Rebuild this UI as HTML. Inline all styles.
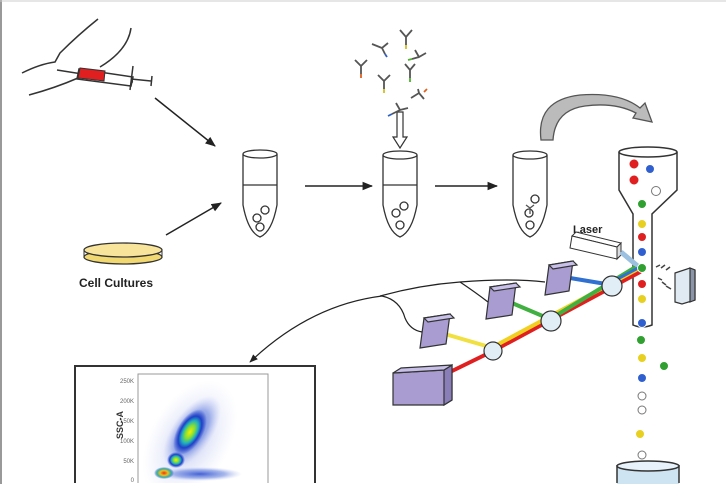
<!DOCTYPE html>
<html><head><meta charset="utf-8"><style>
html,body{margin:0;padding:0;background:#fff;width:726px;height:484px;overflow:hidden}
svg{display:block}
text{font-family:"Liberation Sans",Arial,sans-serif}
</style></head><body>
<svg width="726" height="484" viewBox="0 0 726 484" xmlns="http://www.w3.org/2000/svg">
<defs>
<marker id="ah" viewBox="0 0 10 10" refX="9" refY="5" markerWidth="7" markerHeight="7" orient="auto"><path d="M0,1 L10,5 L0,9 Z" fill="#222"/></marker>
<radialGradient id="blob" cx="50%" cy="50%" r="50%">
<stop offset="0" stop-color="#f4f000"/><stop offset="0.3" stop-color="#7ddc3c"/><stop offset="0.5" stop-color="#20b0c0"/><stop offset="0.7" stop-color="#2040c8"/><stop offset="1" stop-color="#2040c8" stop-opacity="0"/></radialGradient>
<radialGradient id="haze" cx="50%" cy="50%" r="50%">
<stop offset="0" stop-color="#3050d0" stop-opacity="0.9"/><stop offset="0.6" stop-color="#5070d8" stop-opacity="0.5"/><stop offset="1" stop-color="#a0b0f0" stop-opacity="0"/></radialGradient>
<radialGradient id="pale" cx="50%" cy="50%" r="50%">
<stop offset="0" stop-color="#8090e0" stop-opacity="0.5"/><stop offset="1" stop-color="#c0c8f4" stop-opacity="0"/></radialGradient>
<radialGradient id="red" cx="50%" cy="50%" r="50%">
<stop offset="0" stop-color="#e83010"/><stop offset="0.4" stop-color="#f0c020"/><stop offset="0.7" stop-color="#30b0a0"/><stop offset="1" stop-color="#2040c8" stop-opacity="0"/></radialGradient>
<clipPath id="pc"><rect x="138" y="374" width="130" height="109"/></clipPath>
</defs>
<line x1="1" y1="0" x2="1" y2="484" stroke="#999" stroke-width="2"/>
<line x1="0" y1="1" x2="726" y2="1" stroke="#ccc" stroke-width="1"/>

<g fill="none" stroke="#333" stroke-width="1.5">
<path d="M22,73 Q40,64 55,62 L60,53 Q78,35 98,19"/>
<path d="M131,28 Q128,50 100,67"/>
<path d="M29,95 Q55,88 78,78"/>
<path d="M57,70 L133,82"/>
<path d="M79,69 L133,77 L131,86 L77,79 Z" fill="#fff"/>
<path d="M133,66 L130,90"/>
<path d="M131,79 L151,81"/><path d="M152,76 L151,86"/>
</g>
<path d="M80,68 L105,71 L104,81 L78,78 Z" fill="#e02020" stroke="#333"/>

<g stroke="#222" stroke-width="1.5" marker-end="url(#ah)">
<line x1="155" y1="98" x2="215" y2="146"/>
<line x1="166" y1="235" x2="221" y2="203"/>
<line x1="305" y1="186" x2="372" y2="186"/>
<line x1="435" y1="186" x2="497" y2="186"/>
</g>

<ellipse cx="123" cy="257" rx="39" ry="7" fill="#f2d870" stroke="#333" stroke-width="1.3"/>
<path d="M84,250 L84,257 M162,250 L162,257" stroke="#333"/>
<ellipse cx="123" cy="250" rx="39" ry="7" fill="#f8e49a" stroke="#333" stroke-width="1.3"/>
<text x="79" y="287" font-size="12" font-weight="bold" fill="#222">Cell Cultures</text>

<g fill="#fff" stroke="#333" stroke-width="1.3">
<g transform="translate(260,0)">
<path d="M-17,154 L-17,205 Q-12,232 0,237 Q12,232 17,205 L17,154"/>
<ellipse cx="0" cy="154" rx="17" ry="4"/>
<line x1="-17" y1="185" x2="17" y2="185"/>
<circle cx="5" cy="210" r="4"/><circle cx="-3" cy="218" r="4"/><circle cx="0" cy="227" r="4"/>
</g>
<g transform="translate(400,0)">
<path d="M-17,155 L-17,205 Q-12,232 0,237 Q12,232 17,205 L17,155"/>
<ellipse cx="0" cy="155" rx="17" ry="4"/>
<line x1="-17" y1="185" x2="17" y2="185"/>
<circle cx="4" cy="206" r="4"/><circle cx="-4" cy="213" r="4"/><circle cx="0" cy="225" r="4"/>
</g>
<g transform="translate(530,0)">
<path d="M-17,155 L-17,205 Q-12,232 0,237 Q12,232 17,205 L17,155"/>
<ellipse cx="0" cy="155" rx="17" ry="4"/>
<circle cx="5" cy="199" r="4"/><circle cx="-1" cy="213" r="4"/><circle cx="0" cy="225" r="4"/>
<path d="M-4,205 l4,3 l4,-3 M0,208 l0,6" stroke="#555"/>
</g>
</g>
<path d="M397,112 L397,137 L393,137 L400,148 L407,137 L403,137 L403,112 Z" fill="#fff" stroke="#333" stroke-width="1.2"/>

<g stroke="#555" stroke-width="1.8" fill="none">
<path d="M400,30 l6,7 l6,-7 M406,37 l0,8"/><path d="M406,45 l0,4" stroke="#d0c020"/>
<path d="M372,44 l10,4 l6,-5 M382,48 l3,6"/><path d="M385,54 l2,3" stroke="#3060c0"/>
<path d="M415,50 l4,7 l7,-4 M419,57 l-7,2"/><path d="M412,59 l-4,1" stroke="#50b030"/>
<path d="M355,60 l6,6 l6,-6 M361,66 l0,8"/><path d="M361,74 l0,4" stroke="#e06020"/>
<path d="M378,75 l6,6 l6,-6 M384,81 l0,8"/><path d="M384,89 l0,4" stroke="#d0c020"/>
<path d="M405,64 l5,6 l5,-6 M410,70 l0,8"/><path d="M410,78 l0,4" stroke="#50b030"/>
<path d="M411,98 l8,-5 l5,6 M419,93 l-1,-4"/><path d="M424,92 l3,-3" stroke="#e06020"/>
<path d="M396,103 l4,7 l8,-2 M400,110 l-8,4"/><path d="M392,114 l-4,2" stroke="#3060c0"/>
</g>

<path d="M541,140 Q536,100 580,95 Q620,92 640,108 L645,103 L652,122 L633,118 L636,113 Q615,102 585,106 Q555,110 553,140 Z" fill="#bbb" stroke="#555" stroke-width="1.3"/>

<path d="M619,152 L619,190 L633,214 L633,325 Q642,329 652,325 L652,214 L677,190 L677,152" fill="#fff" stroke="#333" stroke-width="1.5"/>
<ellipse cx="648" cy="152" rx="29" ry="5" fill="#fff" stroke="#333" stroke-width="1.5"/>

<rect x="617" y="466" width="62" height="18" fill="#cfe4f2"/>
<path d="M617,465 L617,483 M679,465 L679,483" stroke="#333" stroke-width="1.5"/>
<ellipse cx="648" cy="466" rx="31" ry="5" fill="#e8f2fa" stroke="#333" stroke-width="1.5"/>

<text x="573" y="233" font-size="11" font-weight="bold" fill="#222">Laser</text>
<path d="M572,236 L617,247 L621,243 L576,232 Z" fill="#fff" stroke="#333"/>
<path d="M572,236 L617,247 L617,259 L570,248 Z" fill="#fff" stroke="#333"/>
<path d="M617,247 L621,243 L621,255 L617,259 Z" fill="#ddd" stroke="#333"/>
<line x1="621" y1="252" x2="640" y2="268" stroke="#9cc0e0" stroke-width="5"/>

<g stroke-linecap="round" fill="none">
<line x1="450" y1="372" x2="493" y2="351" stroke="#e02020" stroke-width="4"/>
<line x1="493" y1="351" x2="640" y2="272" stroke="#e02020" stroke-width="4"/>
<line x1="493" y1="347" x2="636" y2="270" stroke="#f0d020" stroke-width="4"/>
<line x1="552" y1="318" x2="634" y2="268" stroke="#40b040" stroke-width="4"/>
<line x1="612" y1="282" x2="638" y2="268" stroke="#3070d0" stroke-width="3"/>
<line x1="445" y1="334" x2="493" y2="348" stroke="#f0e040" stroke-width="4"/>
<line x1="512" y1="303" x2="552" y2="320" stroke="#40b040" stroke-width="4"/>
<line x1="570" y1="278" x2="612" y2="285" stroke="#3070d0" stroke-width="4"/>
</g>
<g fill="#e2eef6" stroke="#333" stroke-width="1.2">
<circle cx="493" cy="351" r="9"/><circle cx="551" cy="321" r="10"/><circle cx="612" cy="286" r="10"/>
</g>

<g stroke="#333" stroke-width="1.2">
<g transform="translate(420,318)"><path d="M4,0 L30,-4 L26,26 L0,30 Z" fill="#a89cd0"/><path d="M4,0 L30,-4 L34,0 L8,4Z" fill="#c8c0e8"/></g>
<g transform="translate(486,287)"><path d="M4,0 L30,-4 L26,28 L0,32 Z" fill="#a89cd0"/><path d="M4,0 L30,-4 L34,0 L8,4Z" fill="#c8c0e8"/></g>
<g transform="translate(545,265)"><path d="M4,0 L28,-4 L24,26 L0,30 Z" fill="#a89cd0"/><path d="M4,0 L28,-4 L32,0 L8,4Z" fill="#c8c0e8"/></g>
<path d="M393,373 L444,370 L452,365 L452,400 L444,405 L393,405 Z" fill="#a89cd0"/>
<path d="M444,370 L452,365 L452,400 L444,405 Z" fill="#8a7eb8"/>
<path d="M393,373 L401,368 L452,365 L444,370 Z" fill="#c8c0e8"/>
<path d="M675,273 L690,268 L695,270 L695,300 L682,304 L675,302 Z" fill="#dfeaf2"/>
<path d="M690,268 L695,270 L695,300 L690,302 Z" fill="#8a96a8"/>
</g>
<g stroke="#444" stroke-width="1.5">
<path d="M656,267 l4,-2 M661,268 l4,-3 M666,270 l4,-3 M658,278 l4,2 M662,282 l4,3 M666,286 l5,3"/>
</g>

<g fill="none" stroke="#222" stroke-width="1.2">
<path d="M545,282 Q510,278 460,282 Q420,285 380,296"/>
<path d="M460,282 Q475,292 488,302"/>
<path d="M382,296 Q400,300 405,318 Q410,330 422,332"/>
<path d="M382,296 Q310,305 250,362" marker-end="url(#ah)"/>
</g>

<g stroke="#fff" stroke-width="1">
<circle cx="634" cy="164" r="5" fill="#e02020"/><circle cx="634" cy="180" r="5" fill="#e02020"/>
<circle cx="650" cy="169" r="4.5" fill="#3060d0"/>
<circle cx="656" cy="191" r="4.5" fill="#fff" stroke="#777"/>
<circle cx="642" cy="204" r="4.5" fill="#30a030"/>
<circle cx="642" cy="224" r="4.5" fill="#e8d020"/>
<circle cx="642" cy="237" r="4.5" fill="#e02020"/>
<circle cx="642" cy="252" r="4.5" fill="#3060d0"/>
<circle cx="642" cy="268" r="4.5" fill="#30a030"/>
<circle cx="642" cy="284" r="4.5" fill="#e02020"/>
<circle cx="642" cy="299" r="4.5" fill="#e8d020"/>
<circle cx="642" cy="323" r="4.5" fill="#3060d0"/>
<circle cx="641" cy="340" r="4.5" fill="#30a030"/>
<circle cx="642" cy="358" r="4.5" fill="#e8d020"/>
<circle cx="664" cy="366" r="4.5" fill="#30a030"/>
<circle cx="642" cy="378" r="4.5" fill="#3060d0"/>
<circle cx="642" cy="396" r="4" fill="#fff" stroke="#777"/>
<circle cx="642" cy="410" r="4" fill="#fff" stroke="#777"/>
<circle cx="640" cy="434" r="4.5" fill="#e8d020"/>
<circle cx="642" cy="455" r="4" fill="#fff" stroke="#777"/>
</g>

<path d="M75,483 L75,366 L315,366 L315,483" fill="#fff" stroke="#333" stroke-width="2"/>
<path d="M138,483 L138,374 L268,374 L268,483" fill="#fff" stroke="#999"/>
<g font-size="6" fill="#666" text-anchor="end">
<text x="134" y="383">250K</text><text x="134" y="403">200K</text><text x="134" y="423">150K</text><text x="134" y="443">100K</text><text x="134" y="463">50K</text><text x="134" y="482">0</text>
</g>
<text transform="translate(123,425) rotate(-90)" font-size="9" font-weight="bold" fill="#333" text-anchor="middle">SSC-A</text>
<g clip-path="url(#pc)">
<ellipse cx="190" cy="440" rx="40" ry="65" transform="rotate(30 190 440)" fill="url(#pale)"/>
<ellipse cx="192" cy="432" rx="20" ry="42" transform="rotate(35 192 432)" fill="url(#haze)"/>
<ellipse cx="190" cy="432" rx="13" ry="25" transform="rotate(30 190 432)" fill="url(#blob)"/>
<ellipse cx="176" cy="460" rx="9" ry="8" fill="url(#blob)"/>
<ellipse cx="200" cy="474" rx="42" ry="7" fill="url(#haze)"/>
<ellipse cx="164" cy="473" rx="10" ry="6" fill="url(#red)"/>
</g>
</svg>
</body></html>
